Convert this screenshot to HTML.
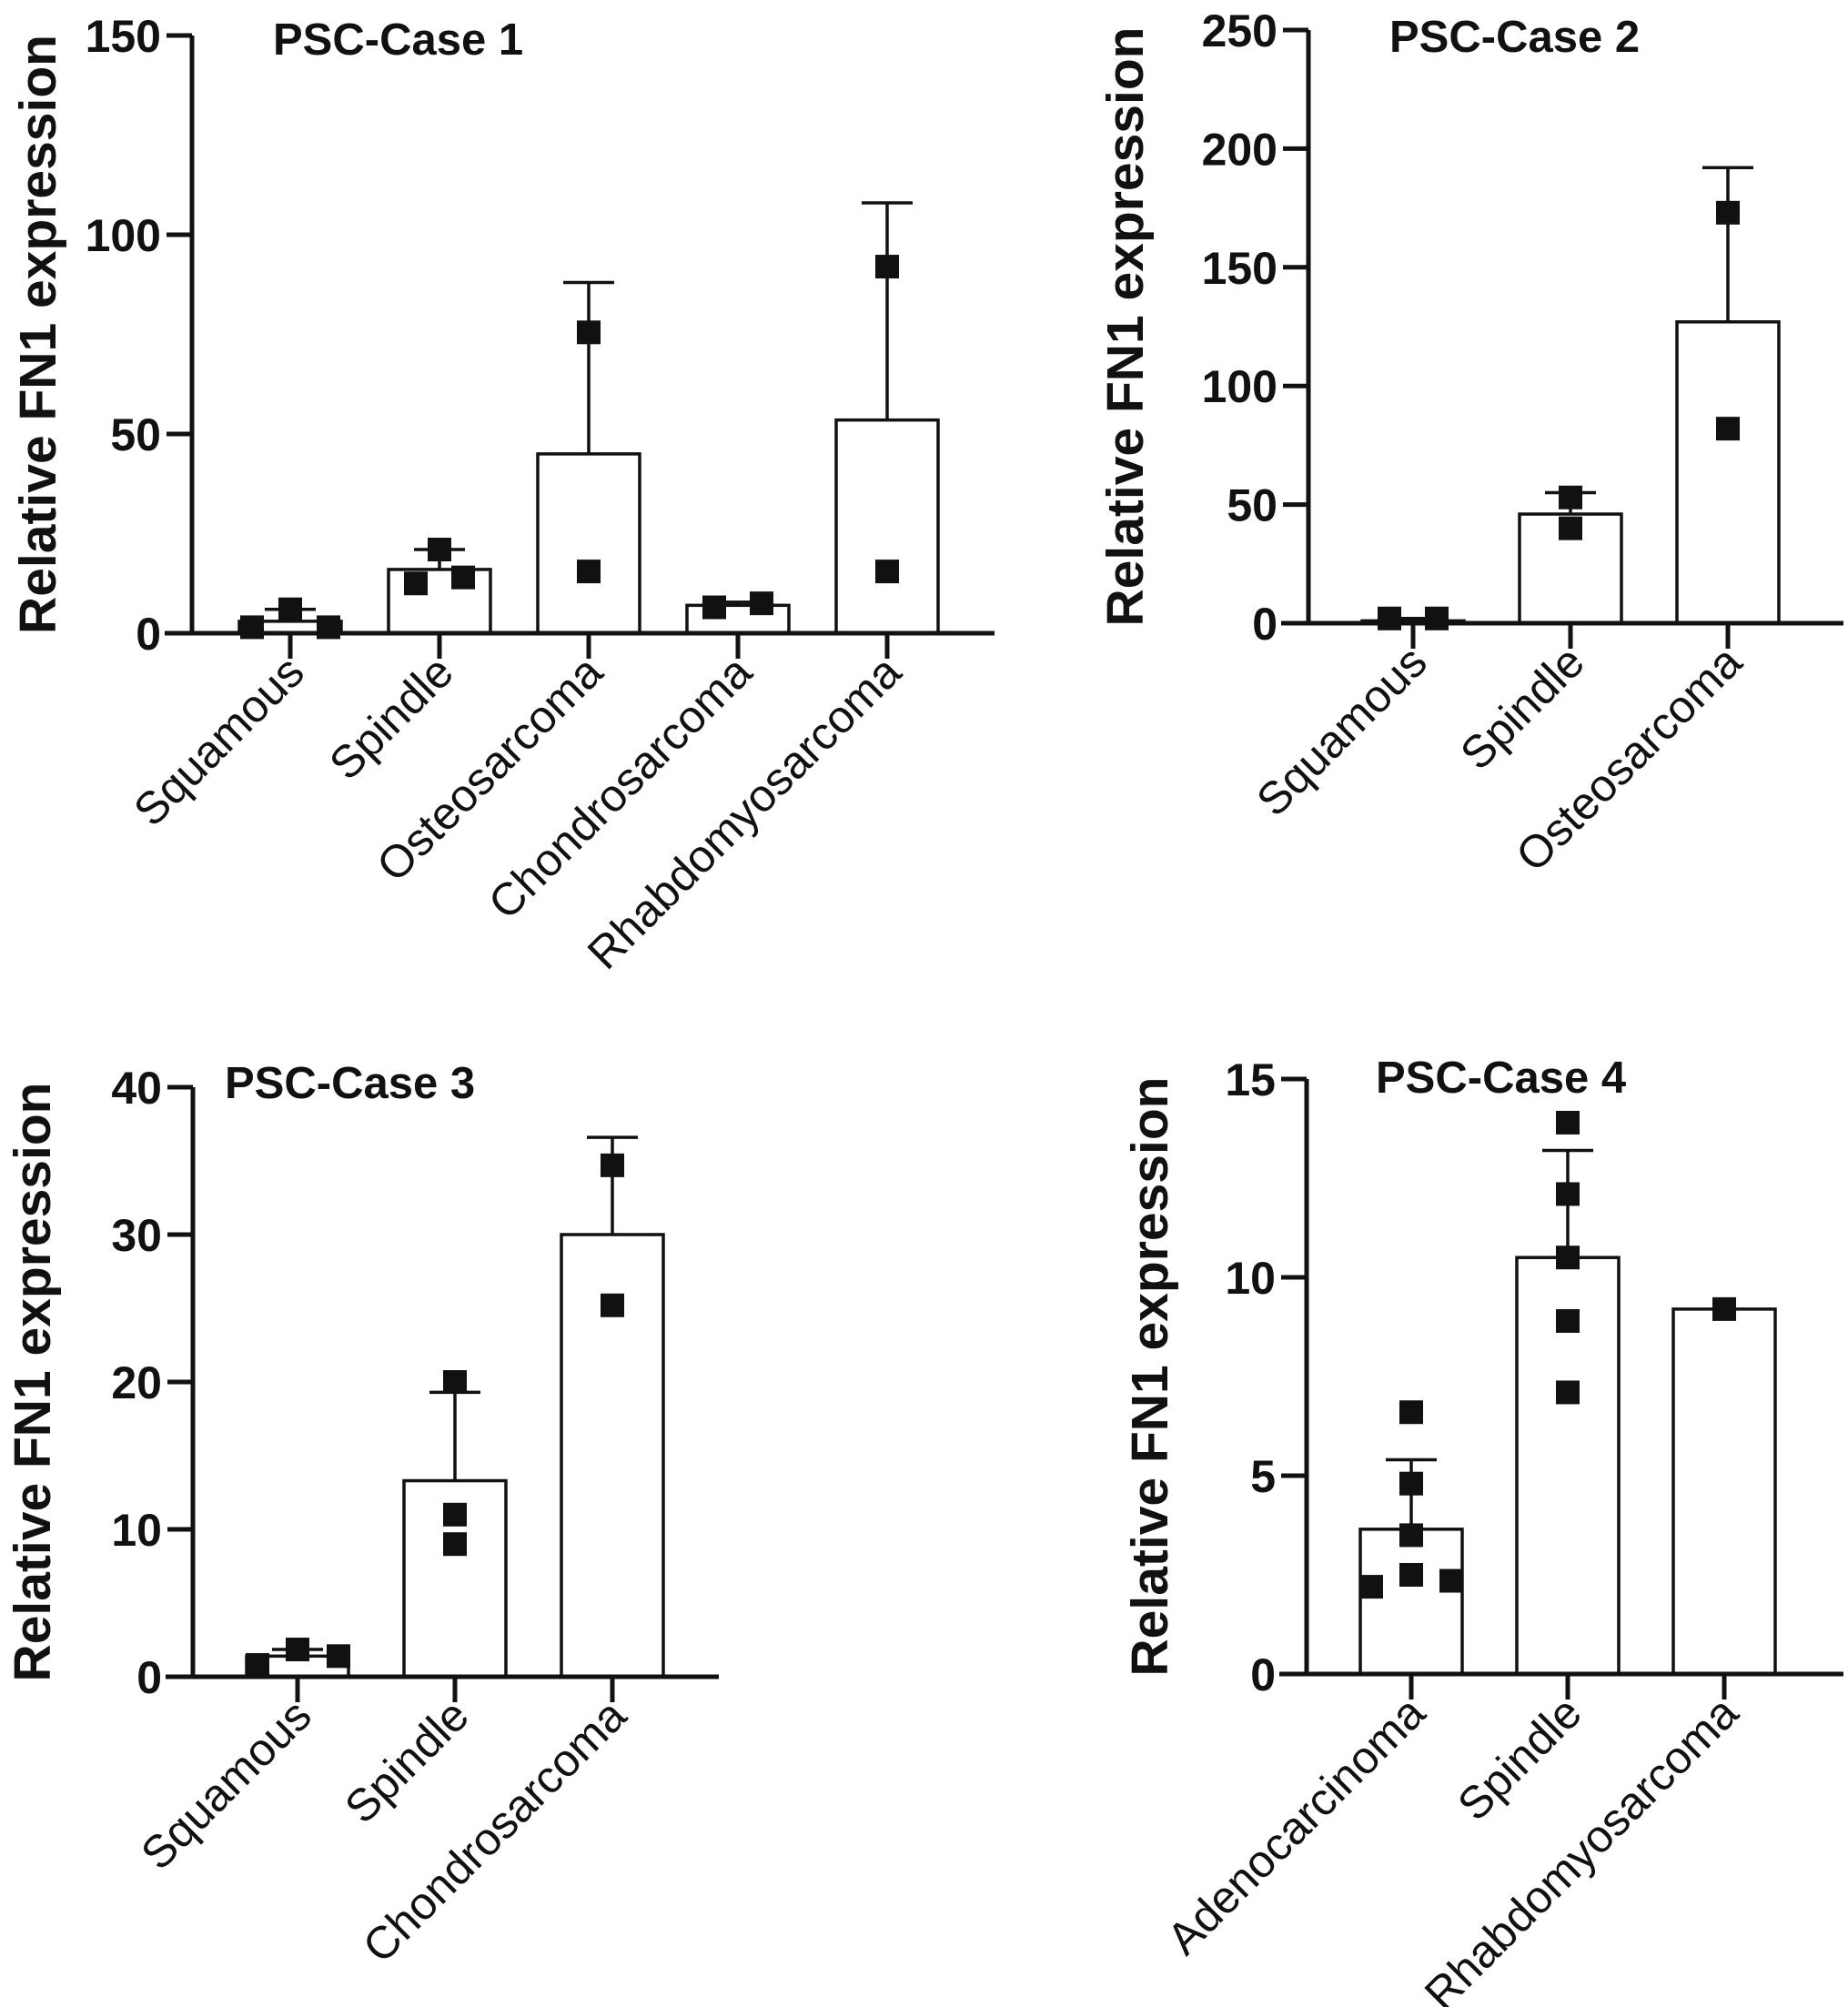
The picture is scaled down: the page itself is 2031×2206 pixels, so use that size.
<!DOCTYPE html>
<html><head><meta charset="utf-8"><style>
html,body{margin:0;padding:0;background:#fff;}
svg{display:block;}
text{font-family:"Liberation Sans",Arial,sans-serif;fill:#111;}
</style></head>
<body>
<svg id="fig" width="2031" height="2206" viewBox="0 0 2031 2206" xmlns="http://www.w3.org/2000/svg"></svg>
<script>
// ---- Case 1 data ----
const c1Categories = ["Squamous","Spindle","Osteosarcoma","Chondrosarcoma","Rhabdomyosarcoma"];
const c1Means = [3, 16, 45, 7, 53.5];
const c1SD = [3, 5, 43, 0.8, 54.5];
const c1Points = [[1.5,6,1.5],[12.5,21,14],[75.5,15.5],[6.5,7.5],[92,15.5]];
const c1Ticks = [0,50,100,150];
// ---- Case 2 data ----
const c2Categories = ["Squamous","Spindle","Osteosarcoma"];
const c2Means = [1, 46, 127];
const c2SD = [1, 9, 65];
const c2Points = [[2,2],[53,40],[173,82]];
const c2Ticks = [0,50,100,150,200,250];
// ---- Case 3 data ----
const c3Categories = ["Squamous","Spindle","Chondrosarcoma"];
const c3Means = [1.4, 13.3, 30];
const c3SD = [0.45, 6, 6.6];
const c3Points = [[0.8,1.85,1.4],[20,11,9],[34.7,25.2]];
const c3Ticks = [0,10,20,30,40];
// ---- Case 4 data ----
const c4Categories = ["Adenocarcinoma","Spindle","Rhabdomyosarcoma"];
const c4Means = [3.65, 10.5, 9.2];
const c4SD = [1.75, 2.7, 0];
const c4Points = [[6.6,4.8,3.5,2.5,2.2,2.35],[13.9,12.1,10.5,8.9,7.1],[9.2]];
const c4Ticks = [0,5,10,15];

const NS="http://www.w3.org/2000/svg";
const svg=document.getElementById('fig');
function mk(tag,attrs,parent){const e=document.createElementNS(NS,tag);for(const k in attrs)e.setAttribute(k,attrs[k]);(parent||svg).appendChild(e);return e;}

function chart(cfg){
  const g=mk('g',{});
  
  
  const ymax=cfg.ticks[cfg.ticks.length-1];
  const y=v=>cfg.y0-(v/ymax)*(cfg.y0-cfg.ytop);
  const x=i=>cfg.x0+i*cfg.step;
  cfg.means.forEach((m,i)=>{
    const r=mk('rect',{x:x(i)-56,y:y(m),width:112,height:cfg.y0-y(m),fill:'#fff',stroke:'#111','stroke-width':3.5},g);
    
    
    if(cfg.sd[i]>0){
      const eb=mk('path',{d:`M${x(i)},${y(m)} V${y(m+cfg.sd[i])} M${x(i)-28},${y(m+cfg.sd[i])} H${x(i)+28}`,stroke:'#111','stroke-width':3.5,fill:'none'},g);
      
      
    }
  });
  cfg.pts.forEach((arr,i)=>{
    arr.forEach((v,j)=>{
      const dx=(cfg.jit[i]&&cfg.jit[i][j])||0;
      const p=mk('rect',{x:x(i)+dx-13,y:y(v)-13,width:26,height:26,fill:'#111'},g);
      
      
    });
  });
  const ax=mk('path',{d:`M${cfg.axisX},${cfg.ytop} V${cfg.y0} M${cfg.axisX-30},${cfg.y0} H${cfg.xend}`,stroke:'#111','stroke-width':5,fill:'none'},g);
  
  
  cfg.ticks.forEach(t=>{
    mk('line',{x1:cfg.axisX-28,x2:cfg.axisX,y1:y(t),y2:y(t),stroke:'#111','stroke-width':5},g);
    const tl=mk('text',{x:cfg.axisX-34,y:y(t)+18,'text-anchor':'end','font-size':50,'font-weight':'bold'},g);
    tl.textContent=t;
    
    
  });
  cfg.cats.forEach((c,i)=>{
    mk('line',{x1:x(i),x2:x(i),y1:cfg.y0,y2:cfg.y0+28,stroke:'#111','stroke-width':5},g);
    const ax2=x(i)+18, ay=cfg.y0+46;
    const tl=mk('text',{x:ax2,y:ay,'text-anchor':'end','font-size':50,transform:`rotate(-45 ${ax2} ${ay})`},g);
    tl.textContent=c;
    
    
  });
  const yt=mk('text',{x:cfg.ytX,y:(cfg.ytop+cfg.y0)/2,'text-anchor':'middle','font-size':57,'font-weight':'bold',transform:`rotate(-90 ${cfg.ytX} ${(cfg.ytop+cfg.y0)/2})`,dy:21},g);
  yt.textContent='Relative FN1 expression';
  
  
  const tt=mk('text',{x:cfg.titleX,y:cfg.titleY,'font-size':49,'font-weight':'bold'},g);
  tt.textContent=cfg.title;
  
  
}

chart({name:'chart-case-1',title:'PSC-Case 1',cats:c1Categories,means:c1Means,sd:c1SD,pts:c1Points,ticks:c1Ticks,
  jit:[[-42,0,42],[-26,0,26],[0,0],[-26,26],[0,0]],
  axisX:211,y0:696,ytop:39,x0:319,step:164,xend:1093,ytX:40,titleX:300,titleY:60});
chart({name:'chart-case-2',title:'PSC-Case 2',cats:c2Categories,means:c2Means,sd:c2SD,pts:c2Points,ticks:c2Ticks,
  jit:[[-26,26],[0,0],[0,0]],
  axisX:1438,y0:685,ytop:33,x0:1553,step:173,xend:2026,ytX:1235,titleX:1527,titleY:57});
chart({name:'chart-case-3',title:'PSC-Case 3',cats:c3Categories,means:c3Means,sd:c3SD,pts:c3Points,ticks:c3Ticks,
  jit:[[-44,0,45],[0,0,0],[0,0]],
  axisX:212,y0:1843,ytop:1195,x0:327,step:173,xend:790,ytX:34,titleX:247,titleY:1207});
chart({name:'chart-case-4',title:'PSC-Case 4',cats:c4Categories,means:c4Means,sd:c4SD,pts:c4Points,ticks:c4Ticks,
  jit:[[0,0,0,0,-44,44],[0,0,0,0,0],[0]],
  axisX:1436,y0:1840,ytop:1186,x0:1551,step:172,xend:2026,ytX:1262,titleX:1512,titleY:1201});
</script>
</body></html>
